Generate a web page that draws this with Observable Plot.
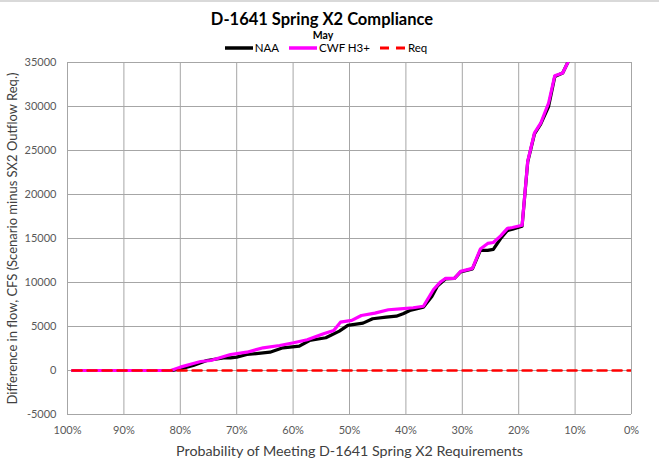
<!DOCTYPE html>
<html>
<head>
<meta charset="utf-8">
<script src="https://cdn.jsdelivr.net/npm/d3@7"></script>
<script src="https://cdn.jsdelivr.net/npm/@observablehq/plot@0.6"></script>
<style>
  body { margin: 0; background: #fff; }
  #wrap { position: relative; width: 659px; height: 461px; overflow: hidden; font-family: Lato, "Open Sans", sans-serif; background:#fff; }
  #head { position: relative; width: 659px; height: 56px; }
  #topbar { position: absolute; left: 0; top: 0; width: 659px; height: 2px; background: #d9d9d9; }
  #title { position: absolute; left: 0; width: 644px; top: 9px; text-align: center; font-weight: 700; font-size: 16.5px; color: #000; }
  #sub { position: absolute; left: 0; width: 646px; top: 29px; text-align: center; font-weight: 700; font-size: 10.5px; color: #000; }
  #legend { position: absolute; left: 0; width: 652px; top: 41px; display: flex; justify-content: center; align-items: center; font-size: 11.5px; color: #000; }
  .item { display: flex; align-items: center; margin: 0 5px; }
  .item svg { margin-right: 2px; }
</style>
</head>
<body>
<div id="wrap">
  <div id="head">
    <div id="topbar"></div>
    <div id="title">D-1641 Spring X2 Compliance</div>
    <div id="sub">May</div>
    <div id="legend"></div>
  </div>
  <div id="chart"></div>
</div>
<script>
// ---- data ----
const seriesNames = ["NAA", "CWF H3+", "Req"];
const seriesColors = ["#000000", "#ff00ff", "#ff0000"];

const naaPct = [99.1, 81.4, 80.0, 77.7, 75.3, 72.3, 71.1, 70.0, 68.2, 64.1, 61.8, 58.9, 57.1, 54.2, 51.8, 50.3, 47.6, 45.9, 43.5, 41.7, 40.5, 39.3, 36.9, 35.4, 34.4, 33.0, 31.4, 30.3, 28.2, 26.8, 25.5, 24.5, 23.2, 22.0, 21.1, 19.4, 18.4, 17.2, 16.1, 14.7, 13.6, 12.2, 11.3, 10.5];
const naaVal = [0, 0, 190, 570, 1140, 1440, 1440, 1520, 1820, 2080, 2580, 2760, 3410, 3720, 4470, 5120, 5380, 5880, 6060, 6170, 6450, 6820, 7200, 8400, 9600, 10400, 10460, 11200, 11550, 13650, 13650, 13760, 15000, 15900, 16050, 16400, 23700, 26900, 28000, 30000, 33400, 33800, 35000, 36800];

const cwfPct = [99.1, 81.7, 80.0, 77.7, 76.4, 74.6, 71.1, 68.2, 65.3, 62.4, 59.9, 57.5, 54.6, 52.8, 51.6, 49.6, 47.9, 45.5, 43.1, 41.0, 38.7, 36.9, 35.1, 33.9, 33.0, 31.4, 30.3, 28.2, 26.8, 25.5, 24.5, 23.2, 22.0, 21.1, 19.4, 18.4, 17.2, 16.1, 14.7, 13.6, 12.2, 11.3, 10.5];
const cwfVal = [0, 0, 380, 800, 1020, 1140, 1820, 2080, 2580, 2840, 3150, 3490, 4170, 4550, 5490, 5690, 6250, 6520, 6900, 7010, 7130, 7300, 9200, 10050, 10460, 10460, 11260, 11600, 13800, 14440, 14550, 15300, 16150, 16250, 16500, 23800, 27000, 28100, 30400, 33500, 33800, 35000, 36800];

const reqPct = [99.1, 0];
const reqVal = [0, 0];

const xTicks = [100, 90, 80, 70, 60, 50, 40, 30, 20, 10, 0];
const yTicks = [-5000, 0, 5000, 10000, 15000, 20000, 25000, 30000, 35000];

const xTitle = "Probability of Meeting D-1641 Spring X2 Requirements";
const yTitle = "Difference in flow, CFS (Scenario minus SX2 Outflow Req.)";

// ---- build rows ----
const toRows = (name, p, v) => p.map((x, i) => ({series: name, p: x, v: v[i]}));
const naa = toRows(seriesNames[0], naaPct, naaVal);
const cwf = toRows(seriesNames[1], cwfPct, cwfVal);
const req = toRows(seriesNames[2], reqPct, reqVal);

// ---- legend ----
const legend = document.getElementById("legend");
seriesNames.forEach((name, i) => {
  const item = document.createElement("div");
  item.className = "item";
  const dashed = i === 2;
  const w = dashed ? 26 : 28;
  item.innerHTML = `<svg width="${w}" height="6"><line x1="0" x2="${w}" y1="3" y2="3" stroke="${seriesColors[i]}" stroke-width="${dashed ? 3 : 3.5}" ${dashed ? 'stroke-dasharray="9,7"' : ''}/></svg><span>${name}</span>`;
  legend.appendChild(item);
});

// ---- chart ----
const grid = "#a6a6a6";
const chart = Plot.plot({
  width: 659,
  height: 405,
  marginTop: 6,
  marginBottom: 47,
  marginLeft: 67,
  marginRight: 28,
  style: { fontFamily: "Lato, 'Open Sans', sans-serif", background: "#fff", overflow: "visible" },
  x: { domain: [100, 0], label: null },
  y: { domain: [-5000, 35000], label: null },
  marks: [
    Plot.gridX(xTicks, { stroke: grid, strokeOpacity: 1, strokeWidth: 1 }),
    Plot.gridY(yTicks, { stroke: grid, strokeOpacity: 1, strokeWidth: 1 }),
    Plot.axisX(xTicks, { tickSize: 0, tickPadding: 12, tickFormat: d => d + "%", label: null, fontSize: 11, fill: "#595959" }),
    Plot.axisY(yTicks, { tickSize: 0, tickPadding: 11, tickFormat: d => String(d), label: null, fontSize: 11, fill: "#595959" }),
    Plot.text([xTitle], { frameAnchor: "bottom", dy: 37, fontSize: 14.3, fill: "#404040", lineAnchor: "middle", textAnchor: "middle" }),
    Plot.text([yTitle], { frameAnchor: "left", dx: -55, rotate: -90, fontSize: 13, fill: "#404040", lineAnchor: "middle", textAnchor: "middle" }),
    Plot.line(naa, { x: "p", y: "v", stroke: seriesColors[0], strokeWidth: 3.2, clip: true, strokeLinejoin: "round" }),
    Plot.line(cwf, { x: "p", y: "v", stroke: seriesColors[1], strokeWidth: 3.2, clip: true, strokeLinejoin: "round" }),
    Plot.line(req, { x: "p", y: "v", stroke: seriesColors[2], strokeWidth: 2.6, strokeDasharray: "9,6", clip: true })
  ]
});
document.getElementById("chart").appendChild(chart);
</script>
</body>
</html>
